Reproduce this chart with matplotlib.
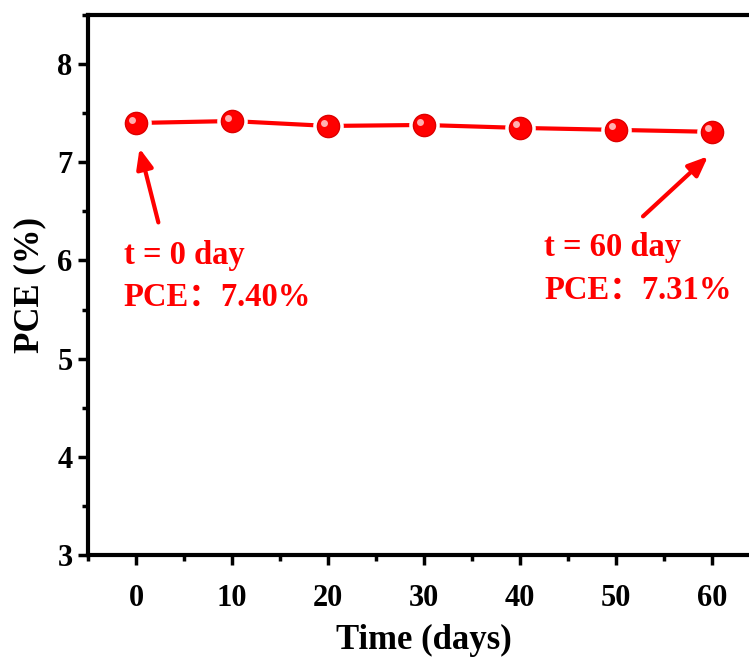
import matplotlib.pyplot as plt
from matplotlib.ticker import MultipleLocator

# data
days = [0, 10, 20, 30, 40, 50, 60]
pce = [7.40, 7.42, 7.37, 7.38, 7.35, 7.33, 7.31]
xticks = [0, 10, 20, 30, 40, 50, 60]
yticks = [3, 4, 5, 6, 7, 8]

plt.rcParams['font.family'] = ['Liberation Serif', 'Noto Sans CJK SC']
plt.rcParams['font.weight'] = 'bold'

fig = plt.figure(figsize=(7.49, 6.64), dpi=100)
# right spine falls outside the picture in the reference
ax = fig.add_axes([88/749, 109/664, 672/749, 540/664])

ax.plot(days, pce, '-', color='red', lw=3, zorder=2)
ax.plot(days, pce, 'o', color='red', ms=19, mec='white', mew=3, zorder=3)
ax.plot(days, pce, 'o', color='red', ms=16, mec='#dd0000', mew=1, zorder=4)
# small highlight so the markers look like spheres
ax.plot([d - 0.4 for d in days], [p + 0.035 for p in pce], 'o',
        color='#ffb0b0', ms=5, mew=0, zorder=5)

ax.set_xlim(-5, 65)
ax.set_ylim(3, 8.5)
ax.set_xticks(xticks)
ax.set_yticks(yticks)
ax.xaxis.set_minor_locator(MultipleLocator(5))
ax.yaxis.set_minor_locator(MultipleLocator(0.5))
ax.tick_params(which='major', length=7, width=2.5, labelsize=22)
ax.tick_params(which='minor', length=4, width=2.5)
ax.tick_params(axis='x', which='major', pad=14)
ax.tick_params(axis='y', which='major', pad=4)
for lab in ax.get_xticklabels() + ax.get_yticklabels():
    lab.set_fontweight('bold')

for s in ax.spines.values():
    s.set_linewidth(3)

ax.set_xlabel('Time (days)', fontsize=25, fontweight='bold', labelpad=8)
ax.set_ylabel('PCE (%)', fontsize=25, fontweight='bold', labelpad=8)

arrow = dict(arrowstyle='-|>,head_length=1.2,head_width=0.5', color='red', lw=3)
ax.annotate('', xy=(0.3, 7.17), xytext=(2.4, 6.36), arrowprops=arrow)
ax.annotate('', xy=(59.8, 7.08), xytext=(52.6, 6.43), arrowprops=arrow)

ax.text(-1.3, 6.05, 't = 0 day', color='red', fontsize=23.5, fontweight='bold', va='center')
ax.text(-1.3, 5.62, 'PCE：7.40%', color='red', fontsize=23.5, fontweight='bold', va='center')
ax.text(42.5, 6.13, 't = 60 day', color='red', fontsize=23.5, fontweight='bold', va='center')
ax.text(42.5, 5.70, 'PCE：7.31%', color='red', fontsize=23.5, fontweight='bold', va='center')

fig.savefig('out.png', dpi=100)
